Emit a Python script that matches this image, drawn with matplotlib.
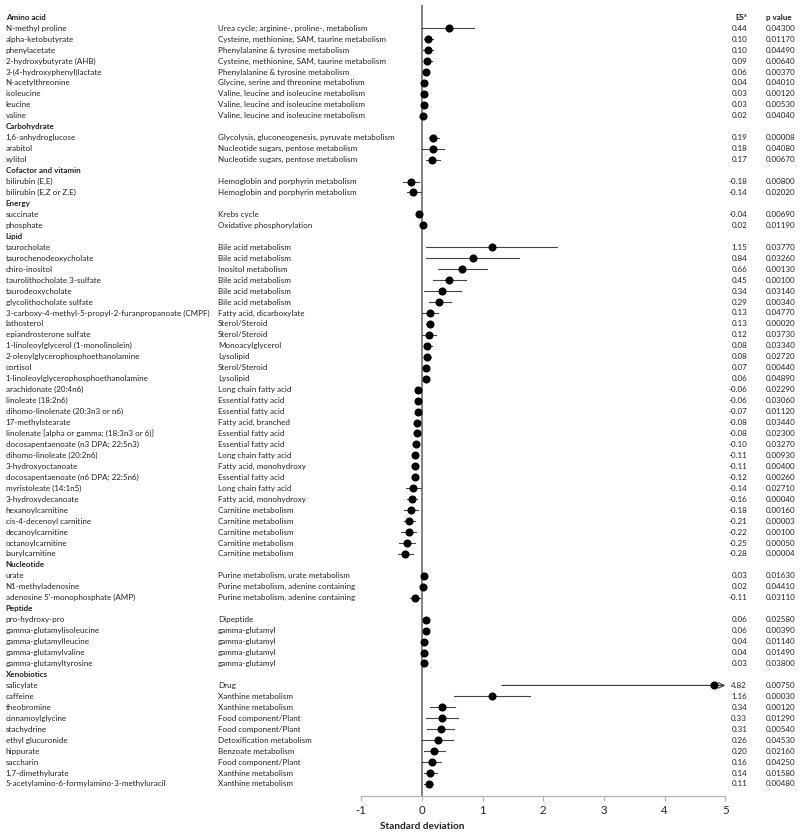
import matplotlib
matplotlib.use("Agg")
from matplotlib import pyplot as plt
from matplotlib.transforms import blended_transform_factory

categories = ["Amino acid"] * 9 + ["Carbohydrate"] * 3 + ["Cofactor and vitamin"] * 2 + \
    ["Energy"] * 2 + ["Lipid"] * 29 + ["Nucleotide"] * 3 + ["Peptide"] * 5 + ["Xenobiotics"] * 10

metabolites = [
    "N-methyl proline", "alpha-ketobutyrate", "phenylacetate", "2-hydroxybutyrate (AHB)",
    "3-(4-hydroxyphenyl)lactate", "N-acetylthreonine", "isoleucine", "leucine", "valine",
    "1,6-anhydroglucose", "arabitol", "xylitol",
    "bilirubin (E,E)", "bilirubin (E,Z or Z,E)",
    "succinate", "phosphate",
    "taurocholate", "taurochenodeoxycholate", "chiro-inositol", "taurolithocholate 3-sulfate",
    "taurodeoxycholate", "glycolithocholate sulfate",
    "3-carboxy-4-methyl-5-propyl-2-furanpropanoate (CMPF)", "lathosterol",
    "epiandrosterone sulfate", "1-linoleoylglycerol (1-monolinolein)",
    "2-oleoylglycerophosphoethanolamine", "cortisol", "1-linoleoylglycerophosphoethanolamine",
    "arachidonate (20:4n6)", "linoleate (18:2n6)", "dihomo-linolenate (20:3n3 or n6)",
    "17-methylstearate", "linolenate [alpha or gamma; (18:3n3 or 6)]",
    "docosapentaenoate (n3 DPA; 22:5n3)", "dihomo-linoleate (20:2n6)", "3-hydroxyoctanoate",
    "docosapentaenoate (n6 DPA; 22:5n6)", "myristoleate (14:1n5)", "3-hydroxydecanoate",
    "hexanoylcarnitine", "cis-4-decenoyl carnitine", "decanoylcarnitine", "octanoylcarnitine",
    "laurylcarnitine",
    "urate", "N1-methyladenosine", "adenosine 5'-monophosphate (AMP)",
    "pro-hydroxy-pro", "gamma-glutamylisoleucine", "gamma-glutamylleucine",
    "gamma-glutamylvaline", "gamma-glutamyltyrosine",
    "salicylate", "caffeine", "theobromine", "cinnamoylglycine", "stachydrine",
    "ethyl glucuronide", "hippurate", "saccharin", "1,7-dimethylurate",
    "5-acetylamino-6-formylamino-3-methyluracil",
]

pathways = [
    "Urea cycle; arginine-, proline-, metabolism", "Cysteine, methionine, SAM, taurine metabolism",
    "Phenylalanine & tyrosine metabolism", "Cysteine, methionine, SAM, taurine metabolism",
    "Phenylalanine & tyrosine metabolism", "Glycine, serine and threonine metabolism",
    "Valine, leucine and isoleucine metabolism", "Valine, leucine and isoleucine metabolism",
    "Valine, leucine and isoleucine metabolism",
    "Glycolysis, gluconeogenesis, pyruvate metabolism", "Nucleotide sugars, pentose metabolism",
    "Nucleotide sugars, pentose metabolism",
    "Hemoglobin and porphyrin metabolism", "Hemoglobin and porphyrin metabolism",
    "Krebs cycle", "Oxidative phosphorylation",
    "Bile acid metabolism", "Bile acid metabolism", "Inositol metabolism", "Bile acid metabolism",
    "Bile acid metabolism", "Bile acid metabolism", "Fatty acid, dicarboxylate", "Sterol/Steroid",
    "Sterol/Steroid", "Monoacylglycerol", "Lysolipid", "Sterol/Steroid", "Lysolipid",
    "Long chain fatty acid", "Essential fatty acid", "Essential fatty acid", "Fatty acid, branched",
    "Essential fatty acid", "Essential fatty acid", "Long chain fatty acid",
    "Fatty acid, monohydroxy", "Essential fatty acid", "Long chain fatty acid",
    "Fatty acid, monohydroxy", "Carnitine metabolism", "Carnitine metabolism",
    "Carnitine metabolism", "Carnitine metabolism", "Carnitine metabolism",
    "Purine metabolism, urate metabolism", "Purine metabolism, adenine containing",
    "Purine metabolism, adenine containing",
    "Dipeptide", "gamma-glutamyl", "gamma-glutamyl", "gamma-glutamyl", "gamma-glutamyl",
    "Drug", "Xanthine metabolism", "Xanthine metabolism", "Food component/Plant",
    "Food component/Plant", "Detoxification metabolism", "Benzoate metabolism",
    "Food component/Plant", "Xanthine metabolism", "Xanthine metabolism",
]

effect_size = [
    0.44, 0.10, 0.10, 0.09, 0.06, 0.04, 0.03, 0.03, 0.02,
    0.19, 0.18, 0.17,
    -0.18, -0.14,
    -0.04, 0.02,
    1.15, 0.84, 0.66, 0.45, 0.34, 0.29, 0.13, 0.13, 0.12, 0.08, 0.08, 0.07, 0.06,
    -0.06, -0.06, -0.07, -0.08, -0.08, -0.10, -0.11, -0.11, -0.12, -0.14, -0.16,
    -0.18, -0.21, -0.22, -0.25, -0.28,
    0.03, 0.02, -0.11,
    0.06, 0.06, 0.04, 0.04, 0.03,
    4.82, 1.16, 0.34, 0.33, 0.31, 0.26, 0.20, 0.16, 0.14, 0.11,
]

p_values = [
    "0.04300", "0.01170", "0.04490", "0.00640", "0.00370", "0.04010", "0.00120", "0.00530", "0.04040",
    "0.00008", "0.04080", "0.00670",
    "0.00800", "0.02020",
    "0.00690", "0.01190",
    "0.03770", "0.03260", "0.00130", "0.00100", "0.03140", "0.00340", "0.04770", "0.00020",
    "0.03730", "0.03340", "0.02720", "0.00440", "0.04890", "0.02290", "0.03060", "0.01120",
    "0.03440", "0.02300", "0.03270", "0.00930", "0.00400", "0.00260", "0.02710", "0.00040",
    "0.00160", "0.00003", "0.00100", "0.00050", "0.00004",
    "0.01630", "0.04410", "0.03110",
    "0.02580", "0.00390", "0.01140", "0.01490", "0.03800",
    "0.00750", "0.00030", "0.00120", "0.01290", "0.00540", "0.04530", "0.02160", "0.04250",
    "0.01580", "0.00480",
]

ci_low = [
    0.00, 0.04, 0.02, 0.03, 0.03, 0.01, 0.01, 0.01, 0.00,
    0.11, 0.01, 0.06,
    -0.31, -0.25,
    -0.06, 0.00,
    0.07, 0.07, 0.26, 0.19, 0.04, 0.11, 0.01, 0.07, 0.01, 0.03, 0.03, 0.04, 0.03,
    -0.08, -0.08, -0.09, -0.11, -0.11, -0.14, -0.15, -0.16, -0.17, -0.26, -0.25,
    -0.29, -0.30, -0.35, -0.38, -0.40,
    0.01, 0.00, -0.20,
    0.03, 0.03, 0.02, 0.02, 0.01,
    1.32, 0.53, 0.14, 0.07, 0.09, 0.01, 0.04, 0.01, 0.03, 0.04,
]

ci_high = [
    0.86, 0.18, 0.18, 0.16, 0.09, 0.07, 0.05, 0.05, 0.04,
    0.29, 0.36, 0.30,
    -0.04, -0.02,
    -0.02, 0.04,
    2.23, 1.60, 1.07, 0.72, 0.65, 0.48, 0.26, 0.19, 0.23, 0.16, 0.15, 0.10, 0.09,
    -0.04, -0.04, -0.05, -0.05, -0.05, -0.06, -0.07, -0.06, -0.07, -0.01, -0.08,
    -0.07, -0.11, -0.09, -0.12, -0.14,
    0.05, 0.04, -0.03,
    0.09, 0.09, 0.06, 0.06, 0.05,
    8.32, 1.79, 0.54, 0.59, 0.53, 0.52, 0.38, 0.32, 0.25, 0.19,
]

x_ticks = [-1, 0, 1, 2, 3, 4, 5]

FONT = ["Lato", "DejaVu Sans"]
FS = 5.8
TXT = "#222222"
plt.rcParams["font.family"] = FONT

fig = plt.figure(figsize=(8, 8.36), dpi=100)
ax = fig.add_axes([0.4515, 0.0478, 0.455, 0.946])

# build row layout: a header row whenever the category changes
rows = []
prev = None
for i, cat in enumerate(categories):
    if cat != prev:
        rows.append(("header", cat))
        prev = cat
    rows.append(("item", i))

xmax = x_ticks[-1]
tr = blended_transform_factory(fig.transFigure, ax.transData)

for r, (kind, val) in enumerate(rows):
    if kind == "header":
        ax.text(0.007, r, val, transform=tr, fontsize=FS, fontweight="bold",
                color=TXT, va="center", ha="left")
        continue
    i = val
    ax.text(0.007, r, metabolites[i], transform=tr, fontsize=FS, color=TXT, va="center")
    ax.text(0.2725, r, pathways[i], transform=tr, fontsize=FS, color=TXT, va="center")
    ax.text(0.934, r, f"{effect_size[i]:.2f}", transform=tr, fontsize=FS, color=TXT,
            va="center", ha="right")
    ax.text(0.957, r, p_values[i], transform=tr, fontsize=FS, color=TXT, va="center")

    lo, hi = ci_low[i], ci_high[i]
    if hi > xmax:
        ax.annotate("", xy=(xmax, r), xytext=(lo, r),
                    arrowprops=dict(arrowstyle="->", color="#333333", lw=0.8,
                                    mutation_scale=10, shrinkA=0, shrinkB=0))
    else:
        ax.plot([lo, hi], [r, r], color="#444444", lw=0.8, zorder=2)
    ax.plot(effect_size[i], r, "o", color="black", markersize=4.8, zorder=3)

# column headers on the first row
ax.text(0.934, 0, "ESª", transform=tr, fontsize=FS, fontweight="bold",
        color=TXT, va="center", ha="right")
ax.text(0.957, 0, "p value", transform=tr, fontsize=FS, fontweight="bold",
        color=TXT, va="center")

n = len(rows)
ax.set_ylim(n + 0.1, -1.1)
ax.set_xlim(x_ticks[0], xmax)
ax.axvline(0, color="#777777", lw=1.3, zorder=1)

for side in ("top", "right", "left"):
    ax.spines[side].set_visible(False)
ax.spines["bottom"].set_color("#b5b5b5")
ax.spines["bottom"].set_linewidth(0.9)
ax.set_yticks([])
ax.set_xticks(x_ticks)
ax.set_xticklabels([str(t) for t in x_ticks])
ax.tick_params(axis="x", colors="#b5b5b5", labelcolor=TXT, labelsize=8.2,
               length=3.5, width=0.9, pad=3)

ax.text(0, -0.039, "Standard deviation", transform=blended_transform_factory(ax.transData, ax.transAxes),
        fontsize=7.2, fontweight="bold", color=TXT, ha="center", va="center")

fig.savefig("out.png", dpi=100, facecolor="white")
